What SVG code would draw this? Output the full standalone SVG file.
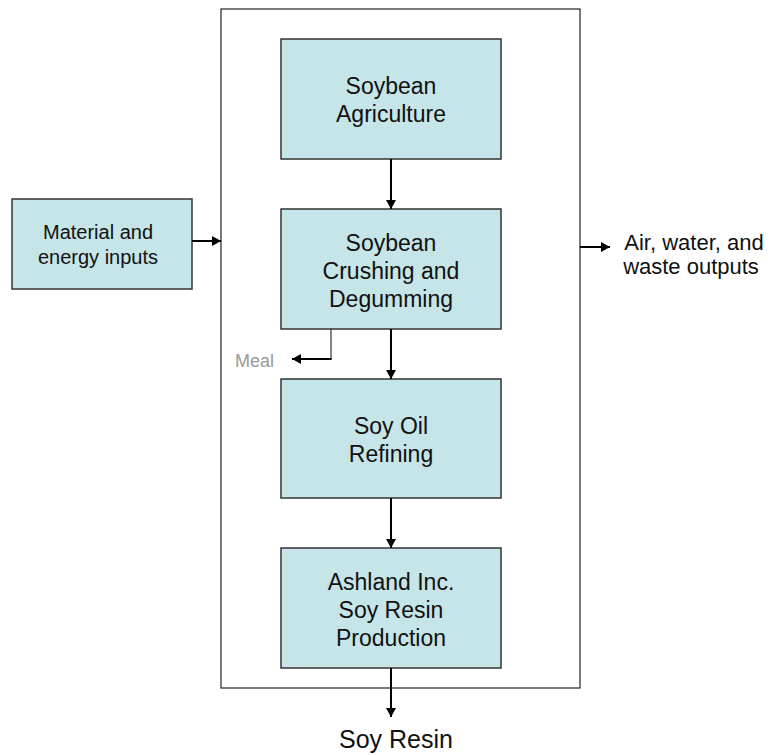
<svg xmlns="http://www.w3.org/2000/svg" width="772" height="755" viewBox="0 0 772 755">
<style>
.box{fill:#C5E5E8;stroke:#333;stroke-width:1.5}
.t{font-family:"Liberation Sans",Arial,sans-serif;fill:#111;text-anchor:middle}
.a{stroke:#000;stroke-width:2;fill:none}
</style>
<defs>
<marker id="ah" markerWidth="10" markerHeight="10" refX="9" refY="5" orient="auto" markerUnits="userSpaceOnUse">
<path d="M0,0 L9,5 L0,10 Z" fill="#000"/>
</marker>
</defs>
<rect width="772" height="755" fill="#fff"/>
<g id="boundary"><rect x="221" y="9" width="359" height="679" fill="none" stroke="#222" stroke-width="1.2"/></g>
<g id="inputs">
<rect class="box" x="12" y="199" width="180" height="90"/>
<text class="t" font-size="20" x="98" y="239">Material and</text>
<text class="t" font-size="20" x="98" y="264">energy inputs</text>
</g>
<g id="agriculture">
<rect class="box" x="281" y="39" width="220" height="120"/>
<text class="t" font-size="23" x="391" y="94">Soybean</text>
<text class="t" font-size="23" x="391" y="122">Agriculture</text>
</g>
<g id="crushing">
<rect class="box" x="281" y="209" width="220" height="120"/>
<text class="t" font-size="23" x="391" y="251">Soybean</text>
<text class="t" font-size="23" x="391" y="279">Crushing and</text>
<text class="t" font-size="23" x="391" y="307">Degumming</text>
</g>
<g id="refining">
<rect class="box" x="281" y="379" width="220" height="119"/>
<text class="t" font-size="23" x="391" y="434">Soy Oil</text>
<text class="t" font-size="23" x="391" y="462">Refining</text>
</g>
<g id="resin-production">
<rect class="box" x="281" y="548" width="220" height="120"/>
<text class="t" font-size="23" x="391" y="590">Ashland Inc.</text>
<text class="t" font-size="23" x="391" y="618">Soy Resin</text>
<text class="t" font-size="23" x="391" y="646">Production</text>
</g>
<g id="outputs">
<text class="t" font-size="22" x="694" y="250">Air, water, and</text>
<text class="t" font-size="22" x="691" y="274">waste outputs</text>
</g>
<g id="meal"><text font-family="Liberation Sans,Arial,sans-serif" font-size="18" fill="#999" x="235" y="367">Meal</text></g>
<g id="soy-resin"><text class="t" font-size="25" x="396" y="748">Soy Resin</text></g>
<g id="connectors">
<line class="a" x1="192" y1="241" x2="221" y2="241" marker-end="url(#ah)"/>
<line class="a" x1="580" y1="247" x2="610" y2="247" marker-end="url(#ah)"/>
<line class="a" x1="391" y1="159" x2="391" y2="209" marker-end="url(#ah)"/>
<line class="a" x1="391" y1="329" x2="391" y2="379" marker-end="url(#ah)"/>
<line class="a" x1="391" y1="498" x2="391" y2="548" marker-end="url(#ah)"/>
<line class="a" x1="391" y1="668" x2="391" y2="717" marker-end="url(#ah)"/>
<line x1="331" y1="329" x2="331" y2="359" stroke="#333" stroke-width="1.2"/>
<line class="a" x1="331.6" y1="359" x2="292" y2="359" marker-end="url(#ah)"/>
</g>
</svg>
